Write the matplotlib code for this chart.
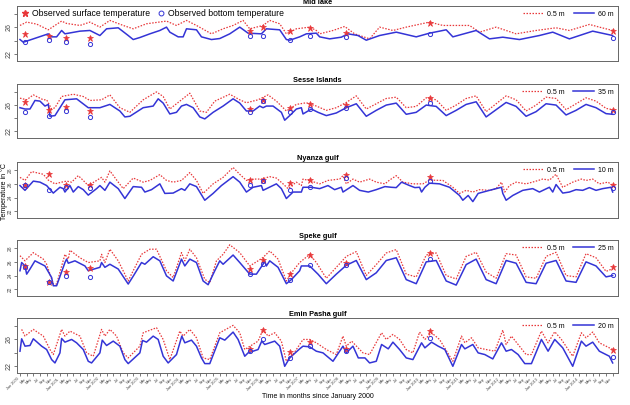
import matplotlib
matplotlib.use('Agg')
import matplotlib.pyplot as plt
import numpy as np

plt.rcParams['font.family'] = ['Liberation Sans', 'DejaVu Sans']

# time in months since January 2000
obs_t = [1.5, 8.7, 13.8, 20.9, 69, 73, 81, 87, 98, 123, 178]

# ---- Mid lake (0.5 m / 60 m)
mid_surf_t = [0, 2, 5, 8.5, 10.5, 12.5, 14, 18, 21, 24, 27, 31, 34, 38, 44, 47, 50, 53, 57.5, 61, 64, 67, 69, 73, 75,
              78, 80, 83, 87, 89, 90, 94, 97.5, 100.5, 105, 108, 112, 116, 123, 127, 135, 138, 143, 149, 155, 161,
              165, 171, 174, 178]
mid_surf_v = [26.3, 26.8, 26.5, 25.65, 26.3, 26.95, 26.6, 26.3, 26.8, 26.05, 27.05, 26.3, 25.8, 26.55, 26.95, 26.3,
              27.05, 26.3, 25.05, 25.8, 26.3, 27.05, 25.8, 26.3, 27.05, 26.55, 25.05, 25.8, 26.05, 25.55, 25.05, 25.55,
              26.15, 25.05, 24.3, 26.05, 25.55, 26.05, 26.8, 26.3, 26.3, 25.3, 26.05, 25.05, 25.55, 25.95, 25.55,
              26.45, 26.05, 25.55]
mid_deep_t = [0, 1, 8.5, 9.5, 11, 12.5, 13.5, 18, 21, 24, 25, 26, 29.5, 32.5, 34, 36, 39, 42, 44, 45, 47.5, 49, 50,
              53, 54.5, 57.5, 60, 63, 66, 68.5, 72.5, 74, 78, 80, 81, 84, 86, 89, 90, 93, 96.5, 98.5, 101.5, 104,
              108, 113, 119, 123, 128, 130, 137, 141, 145, 150, 156, 160, 165, 172, 178]
mid_deep_v = [24.2, 23.8, 25.05, 24.6, 24.6, 25.55, 25.05, 25.45, 25.55, 24.8, 25.3, 25.8, 25.95, 24.8, 24.2, 24.5,
              25.05, 25.55, 26.05, 25.3, 24.6, 24.6, 25.8, 25.65, 24.6, 24.2, 24.35, 25.05, 26.05, 25.15, 25.05, 25.8,
              25.65, 24.2, 24.1, 24.6, 25.05, 25.15, 24.6, 24.3, 24.55, 25.05, 24.8, 24.1, 24.8, 25.3, 24.6, 25.15,
              25.65, 24.6, 25.55, 24.3, 24.55, 24.2, 24.8, 25.3, 24.3, 25.45, 24.8]
mid_obs_surf = [24.96, 24.8, 24.5, 24.4, 25.4, 26.0, 25.4, 25.85, 25.1, 26.6, 25.4]
mid_obs_bot = [23.8, 24.1, 23.9, 23.5, 24.8, 24.8, 24.1, 24.8, 24.65, 25.0, 24.5]

# ---- Sesse Islands (0.5 m / 35 m)
ses_surf_t = [0, 2, 4, 7, 8, 9.5, 10.5, 12.5, 16, 19, 21, 24.5, 27, 30, 33, 37, 41, 43, 45, 48, 51, 54, 56, 58.5, 63,
              66, 68, 71.5, 74.5, 77, 80, 83, 86, 89, 92, 95, 98, 101, 104, 107, 110, 113, 116, 119, 122, 125, 128,
              131, 134, 137, 140, 143, 146, 149, 152, 155, 158, 161, 164, 167, 170, 173, 176, 178]
ses_surf_v = [27.05, 26.8, 27.55, 26.8, 26.8, 25.4, 25.6, 27.3, 27.65, 27.3, 26.7, 26.8, 27.55, 25.6, 24.9, 26.8,
              28.0, 27.3, 25.4, 26.6, 27.8, 25.1, 24.9, 26.6, 27.65, 26.8, 26.35, 26.8, 27.55, 26.6, 25.1, 26.1,
              26.35, 25.85, 25.2, 25.6, 26.4, 27.4, 25.4, 26.2, 27.0, 27.2, 25.6, 25.8, 27.1, 26.8, 25.2, 26.0, 27.0,
              27.4, 25.0, 26.2, 27.4, 26.8, 25.1, 26.0, 27.2, 27.0, 25.3, 26.2, 27.1, 26.6, 25.5, 25.3]
ses_deep_t = [0, 1.5, 3, 4.5, 6, 7.5, 8.5, 9, 10.5, 13.5, 17, 20.5, 24, 27, 30, 31.5, 33, 37, 40, 41.5, 43, 45, 47,
              48.5, 50, 52, 54, 55.5, 58, 61, 64, 66, 68, 70, 72, 73, 74, 76, 78.5, 79.5, 81, 83, 84.5, 85, 87.5,
              89.5, 92, 95, 98, 101, 104, 107, 110, 113, 116, 119, 122, 125, 128, 131, 134, 137, 140, 143, 146, 149,
              152, 155, 158, 161, 164, 167, 170, 173, 176, 178]
ses_deep_v = [25.6, 25.4, 25.4, 26.7, 26.6, 25.85, 26.1, 24.3, 24.4, 26.8, 26.95, 25.6, 25.6, 26.1, 25.1, 24.2, 24.3,
              25.6, 25.85, 26.95, 26.3, 24.65, 24.9, 25.85, 26.1, 25.6, 24.2, 23.9, 24.9, 25.85, 26.95, 26.3, 25.1,
              25.1, 25.85, 25.6, 25.85, 25.85, 24.9, 23.7, 24.4, 25.4, 25.6, 24.65, 25.4, 24.9, 24.4, 24.8, 25.6,
              26.2, 24.3, 25.2, 26.0, 26.3, 24.6, 24.9, 26.0, 25.8, 24.4, 25.2, 26.1, 26.5, 24.2, 25.3, 26.4, 25.8,
              24.3, 25.0, 26.2, 26.0, 24.5, 25.2, 26.1, 25.6, 24.7, 24.6]
ses_obs_surf = [26.45, 25.2, 25.75, 25.1, 25.45, 26.8, 25.5, 26.2, 26.0, 27.0, 25.3]
ses_obs_bot = [24.9, 24.4, 25.1, 24.2, 25.0, 26.6, 24.9, 25.45, 25.6, 26.3, 24.9]

# ---- Nyanza gulf (0.5 m / 10 m)
nya_surf_t = [0, 1.5, 3.5, 7, 8.5, 10.5, 12.5, 14, 15.5, 17.5, 19, 20.5, 23, 24.5, 25.5, 27, 29.5, 31, 34, 37, 39,
              42, 44, 46, 48.5, 51, 53, 55, 58, 61, 64, 66, 68, 70, 72.5, 75, 77, 79, 80.5, 83, 84.5, 85, 87.5, 90,
              92.5, 96, 97, 98, 100, 102, 105, 107, 109.6, 111, 113, 115, 118, 121, 123, 127, 130, 132, 134, 136,
              138, 141, 143, 144.6, 145.6, 147, 149, 152, 155, 157, 159, 161, 163, 166, 168.6, 170, 172, 174, 176.6,
              178]
nya_surf_v = [26.95, 26.5, 27.8, 27.4, 26.55, 26.0, 26.25, 26.4, 26.25, 27.2, 26.5, 25.75, 26.5, 26.95, 26.25, 27.9,
              26.25, 25.3, 26.85, 26.25, 26.5, 27.35, 26.5, 26.25, 26.5, 27.65, 26.5, 24.6, 26.0, 26.95, 28.4, 27.4,
              26.5, 26.7, 26.7, 27.05, 26.85, 26.0, 25.3, 26.25, 25.75, 26.7, 26.4, 26.0, 26.5, 26.7, 27.2, 26.0,
              26.7, 26.25, 26.7, 26.25, 26.0, 26.55, 27.2, 26.25, 26.0, 26.0, 26.55, 26.5, 25.5, 24.6, 25.05, 24.8,
              25.15, 25.05, 25.3, 26.25, 24.8, 25.75, 26.25, 26.0, 26.4, 26.7, 26.55, 27.4, 25.5, 26.25, 26.7, 26.5,
              26.7, 26.0, 26.25, 25.75]
nya_deep_t = [0, 1.5, 4, 6, 8, 10, 12, 13, 13.5, 15, 16, 17.5, 19, 20.5, 23, 24, 25.5, 27, 29.5, 31.5, 34, 36.5, 37.5,
              39.5, 42, 43.5, 46, 48.5, 49.5, 51, 53, 55.5, 58, 60.5, 64, 66, 68, 70, 72.5, 73, 77, 78.5, 80, 82, 84.5,
              85, 87.5, 90, 92.5, 94.5, 96.5, 97, 100, 102, 104.6, 107, 109.6, 111.5, 113, 114.6, 117, 118.6, 120,
              120.6, 121.6, 123, 126, 129, 132, 133, 134.6, 136, 137.6, 141, 144.6, 145, 146, 148, 151, 154, 156, 159,
              160, 161, 163, 165, 167, 169, 171, 173, 175, 177.5, 178]
nya_deep_v = [25.75, 25.05, 26.4, 26.25, 25.75, 24.65, 25.5, 25.3, 24.8, 25.75, 24.8, 25.6, 25.15, 24.35, 25.3, 25.75,
              25.05, 26.25, 25.3, 23.85, 25.6, 25.5, 24.8, 25.15, 26.0, 24.6, 24.65, 25.3, 25.05, 26.0, 25.6, 23.6,
              24.6, 25.75, 27.05, 26.25, 24.8, 25.5, 25.75, 25.05, 26.0, 25.3, 23.85, 24.8, 24.8, 25.5, 25.5, 25.3,
              25.75, 25.15, 25.5, 24.8, 25.75, 25.05, 24.8, 25.15, 25.6, 25.5, 25.45, 26.25, 25.75, 25.45, 25.5,
              24.8, 25.5, 26.1, 26.0, 25.5, 24.3, 23.6, 24.3, 23.4, 24.6, 25.05, 25.5, 24.6, 23.6, 24.3, 25.05,
              25.3, 24.8, 25.5, 24.8, 25.9, 24.65, 24.8, 25.15, 25.05, 25.45, 25.05, 25.3, 25.5, 24.8]
nya_obs_surf = [25.9, 27.4, 25.9, 25.9, 26.5, 26.5, 26.15, 26.55, 27.3, 26.95, 25.9]
nya_obs_bot = [25.9, 25.15, 25.5, 25.45, 25.85, 26.35, 25.15, 25.6, 26.85, 26.4, 25.45]

# ---- Speke gulf (0.5 m / 25 m)
spe_surf_t = [0, 1.5, 4, 7, 8, 10, 11, 13.5, 14.5, 15, 18, 20.5, 24, 24.5, 25.5, 27, 29.5, 32.5, 34, 36.5, 39, 41, 44,
              46, 48.5, 49.5, 51, 53, 55.5, 57, 59, 61, 63, 66, 69, 71.5, 73, 75, 77.5, 80, 82, 84, 87, 89, 92, 95,
              98, 101, 104, 107, 110, 113, 116, 119, 122, 125, 128, 131, 134, 137, 140, 143, 146, 149, 152, 155, 158,
              161, 164, 167, 170, 173, 176, 178]
spe_surf_v = [26.9, 26.15, 27.35, 26.4, 25.65, 22.75, 22.75, 27.1, 26.4, 27.7, 26.6, 25.9, 26.15, 27.1, 25.9, 27.85,
              26.15, 23.2, 24.7, 27.1, 27.85, 27.85, 24.7, 23.7, 27.35, 26.15, 27.85, 26.6, 23.45, 22.95, 26.15, 27.1,
              28.5, 27.35, 25.4, 26.15, 26.65, 27.6, 26.4, 23.2, 24.7, 25.9, 27.1, 25.9, 23.6, 25.2, 26.8, 27.5, 24.0,
              25.6, 27.3, 27.8, 24.2, 23.8, 27.0, 27.3, 24.0, 23.5, 26.8, 27.4, 24.5, 23.6, 27.2, 27.0, 23.8, 23.6,
              26.8, 27.4, 24.0, 23.8, 27.2, 26.6, 24.6, 25.0]
spe_deep_t = [0, 0.5, 1.5, 2, 3, 4.5, 6.5, 7.5, 9.5, 10, 11, 13.5, 14, 14.5, 16.5, 19.5, 20.5, 24, 24.5, 25.5, 27,
              29.5, 32.5, 34, 36.5, 37.5, 40, 42, 44, 46, 48.5, 49.5, 51, 53, 55, 56.5, 58.5, 60, 61, 64, 66, 69, 71,
              73, 73.5, 74, 75, 77.5, 80, 81.5, 84, 84.5, 87, 89.5, 92, 95, 98, 101, 104, 107, 110, 113, 116, 119, 122,
              125, 128, 131, 134, 137, 140, 143, 146, 149, 152, 155, 158, 161, 164, 167, 170, 173, 176, 178]
spe_deep_v = [24.7, 25.9, 25.4, 24.2, 24.95, 26.15, 25.65, 25.4, 23.7, 22.5, 22.5, 25.9, 26.4, 25.8, 26.15, 25.4,
              24.7, 25.2, 25.9, 25.2, 25.65, 24.95, 22.75, 23.9, 25.9, 25.65, 26.75, 26.15, 23.95, 23.2, 26.4, 25.4,
              26.4, 25.9, 23.2, 22.65, 24.7, 26.15, 25.65, 27.0, 25.9, 24.2, 24.2, 25.65, 26.15, 25.4, 26.15, 25.2,
              22.8, 23.4, 24.7, 25.4, 25.4, 24.2, 22.8, 24.2, 25.5, 26.2, 23.4, 24.4, 26.2, 26.6, 23.4, 22.8, 26.0,
              26.2, 23.2, 22.6, 25.6, 26.4, 23.4, 22.8, 26.2, 25.8, 23.0, 22.8, 25.8, 26.2, 23.2, 23.0, 26.0, 25.4,
              23.8, 24.0]
spe_obs_surf = [25.4, 23.1, 24.45, 25.05, 24.95, 26.3, 24.2, 27.0, 25.8, 27.3, 25.2]
spe_obs_bot = [25.2, 23.1, 23.95, 23.85, 24.2, 25.65, 23.3, 25.55, 25.5, 26.4, 24.1]

# ---- Emin Pasha gulf (0.5 m / 20 m)
emi_surf_t = [0.5, 1.5, 4, 7, 9, 10, 12.5, 13.5, 15, 18, 20, 22, 24.5, 25.5, 27, 29, 31, 32.5, 36, 37, 41, 43, 45, 48,
              49, 51, 53, 55, 57, 60, 64, 66, 67.5, 71.5, 73, 74.5, 76.5, 78.5, 80, 82, 85, 87, 89, 92, 95, 97, 98,
              99.6, 103, 105, 108.6, 110, 112, 114, 116, 118, 120, 121.6, 123.6, 126, 130, 132.6, 133.6, 135.6, 137.6,
              140, 142.6, 145, 146, 147.6, 149.6, 152, 153.6, 156.6, 158.6, 160.6, 162.6, 166, 168.6, 170, 172, 174,
              178]
emi_surf_v = [27.5, 26.5, 27.5, 26.5, 24.5, 23.75, 27.5, 26.5, 27.25, 26.5, 24.0, 23.5, 27.5, 26.5, 27.5, 26.5, 24.0,
              23.25, 25.0, 27.0, 27.75, 26.0, 23.0, 27.25, 26.5, 27.5, 26.25, 23.25, 23.0, 27.0, 28.1, 27.0, 24.5,
              25.75, 27.5, 26.5, 27.0, 25.75, 22.75, 23.75, 26.0, 26.0, 25.5, 24.5, 23.75, 26.5, 25.0, 25.75, 24.0,
              23.75, 27.0, 26.0, 26.75, 26.0, 24.5, 24.0, 27.1, 26.0, 27.0, 26.0, 22.75, 26.5, 25.5, 26.25, 24.75,
              24.5, 24.25, 27.4, 25.25, 26.5, 25.25, 23.75, 23.75, 27.25, 25.5, 27.15, 26.0, 23.5, 27.0, 26.25, 27.1,
              25.5, 24.5]
emi_deep_t = [0, 0.5, 1.5, 3, 4, 6.5, 8, 9.5, 10.5, 12, 12.5, 13.5, 15.5, 17, 19, 20.5, 21.5, 24, 24.7, 26, 28, 30,
              31.5, 32.5, 36, 36.8, 38, 40, 41.5, 43, 44.5, 47, 48.6, 49.5, 51.5, 53, 54.5, 55.5, 57, 60, 61.5, 64,
              65.5, 67.5, 68.5, 71.5, 72.6, 73.5, 76.5, 78, 79.5, 81, 84, 85, 87, 89, 91, 94, 97, 98, 100, 101.6,
              103.6, 105, 107, 108.6, 110.6, 112, 114, 116, 118, 120.6, 121.6, 123.6, 125.6, 127.6, 130, 132.6, 133.6,
              136, 137.6, 139.6, 142, 144.6, 146, 147.6, 149.6, 151.6, 153.6, 156.6, 158.6, 160.6, 163, 166, 168.6,
              170, 172, 174, 177, 178]
emi_deep_v = [24.25, 26.1, 25.0, 25.1, 26.1, 25.0, 24.5, 23.0, 22.5, 24.0, 26.15, 25.6, 26.0, 25.5, 24.5, 22.75,
              22.5, 24.0, 25.9, 25.1, 25.75, 25.0, 23.0, 22.4, 24.0, 25.85, 25.6, 26.5, 26.0, 23.5, 22.5, 23.75, 26.5,
              25.5, 25.9, 25.0, 23.25, 22.4, 22.4, 26.25, 25.9, 27.1, 26.0, 23.5, 24.0, 24.5, 25.75, 25.25, 25.75,
              25.0, 22.0, 23.25, 24.6, 25.0, 24.9, 24.25, 24.0, 22.75, 25.0, 24.0, 25.0, 23.25, 23.25, 22.5, 22.75,
              25.25, 24.6, 25.6, 24.5, 23.25, 23.0, 25.5, 24.75, 25.6, 25.0, 24.5, 22.0, 25.25, 24.6, 25.25, 24.0,
              23.75, 23.1, 25.5, 24.25, 24.5, 23.75, 22.4, 22.4, 26.0, 24.25, 26.0, 24.75, 22.0, 25.75, 25.0, 25.6,
              24.25, 23.5, 22.5]
emi_obs_surf = [np.nan, np.nan, np.nan, np.nan, 24.65, 27.35, 24.1, 25.65, 24.6, 27.25, 24.5]
emi_obs_bot = [np.nan, np.nan, np.nan, np.nan, 24.25, 26.0, 23.25, 25.0, 24.25, 26.25, 23.4]

panels = [
    ('Mid lake', '60 m', mid_surf_t, mid_surf_v, mid_deep_t, mid_deep_v, mid_obs_surf, mid_obs_bot),
    ('Sesse Islands', '35 m', ses_surf_t, ses_surf_v, ses_deep_t, ses_deep_v, ses_obs_surf, ses_obs_bot),
    ('Nyanza gulf', '10 m', nya_surf_t, nya_surf_v, nya_deep_t, nya_deep_v, nya_obs_surf, nya_obs_bot),
    ('Speke gulf', '25 m', spe_surf_t, spe_surf_v, spe_deep_t, spe_deep_v, spe_obs_surf, spe_obs_bot),
    ('Emin Pasha gulf', '20 m', emi_surf_t, emi_surf_v, emi_deep_t, emi_deep_v, emi_obs_surf, emi_obs_bot),
]

RED = '#e8383a'
BLUE = '#3434d6'
W, H = 630, 405
boxes = [(6, 61), (84, 138), (162, 218), (240, 296), (318, 373)]  # top/bottom in px

fig = plt.figure(figsize=(W / 100, H / 100), dpi=100)

month_names = ['Jan', 'Mar', 'May', 'Jul', 'Sep', 'Nov']
tick_pos = np.arange(0, 180, 2)
tick_lab = []
for p in tick_pos:
    m = month_names[(p % 12) // 2]
    tick_lab.append(f'{m} {2000 + p // 12}' if m == 'Jan' else m)


def line_legend(ax, l1, l2):
    return ax.legend(handles=[l1, l2], loc='upper right', ncol=2, frameon=False, fontsize=5,
                     handlelength=3, handletextpad=0.5, columnspacing=1.3, borderaxespad=0.25)


for i, (name, depth, st, sv, dt, dv, osurf, obot) in enumerate(panels):
    top, bot = boxes[i]
    ax = fig.add_axes([17 / W, 1 - bot / H, 601 / W, (bot - top) / H])
    l1, = ax.plot(st, sv, color=RED, ls=(0, (1.2, 1.2)), lw=0.9, label='0.5 m')
    l2, = ax.plot(dt, dv, color=BLUE, lw=1.1, label=depth)
    ax.plot(obs_t, osurf, ls='none', marker='*', color=RED, ms=4.5, mew=0.5)
    ax.plot(obs_t, obot, ls='none', marker='o', mfc='none', mec=BLUE, ms=3, mew=0.7)
    ax.set_xlim(-0.9, 179.6)
    ax.set_ylim(21.0, 29.2)
    ax.text(0.5, 1.0, name, transform=ax.transAxes, ha='center', va='bottom',
            fontsize=5.3, fontweight='bold')
    for s in ax.spines.values():
        s.set_color('#666666')
        s.set_linewidth(0.7)
    ax.set_yticks([22, 24, 26, 28])
    if i in (2, 3):
        ax.set_yticklabels(['22', '24', '26', '28'], rotation=90, va='center', fontsize=3.5)
    else:
        ax.set_yticklabels(['22', '', '26', ''], rotation=90, va='center', fontsize=5)
    ax.tick_params(axis='y', length=2, width=0.5, pad=1, colors='#444444')
    if i == 0:
        h1, = ax.plot([], [], ls='none', marker='*', color=RED, ms=5)
        h2, = ax.plot([], [], ls='none', marker='o', mfc='none', mec=BLUE, ms=3.5, mew=0.7)
        leg = ax.legend(handles=[h1, h2], labels=['Observed surface temperature', 'Observed bottom temperature'],
                        loc='upper left', ncol=2, frameon=False, fontsize=6.2, handlelength=1.2,
                        handletextpad=0.2, columnspacing=0.7, borderaxespad=0.15, borderpad=0.2)
        ax.add_artist(leg)
    line_legend(ax, l1, l2)
    if i == 4:
        ax.set_xticks(tick_pos)
        ax.set_xticklabels(tick_lab, rotation=45, ha='right', fontsize=2.8)
        ax.tick_params(axis='x', length=2.5, width=0.5, pad=0.5, colors='#444444')
    else:
        ax.set_xticks([])

fig.text(318 / W, 1 - 397 / H, 'Time in months since January 2000', ha='center', va='center', fontsize=5)
fig.text(0.5 / W, 1 - 192 / H, 'Temperature in °C', rotation=90, ha='left', va='center', fontsize=5)

fig.savefig('out.png', dpi=100)
